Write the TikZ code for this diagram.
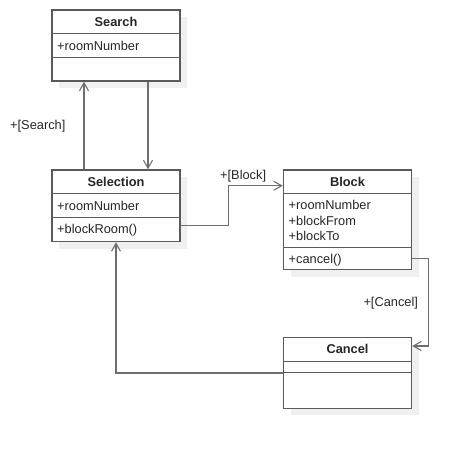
\documentclass[tikz,border=0pt]{standalone}
\usepackage{fontspec}
\setmainfont{Liberation Sans}
\usetikzlibrary{arrows.meta,positioning,shadows}

\definecolor{boxgray}{HTML}{5A5A5A}
\definecolor{linegray}{HTML}{6E6E6E}
\definecolor{shadowgray}{HTML}{F0F0F0}

\begin{document}
\begin{tikzpicture}[x=1pt,y=-1pt,>={Straight Barb[length=8pt,width=9pt,line width=1.1pt]},
  every node/.style={font=\fontsize{12.8}{15}\selectfont,text=black!85},
  classbox/.style={draw=boxgray,line width=1.4pt,fill=white,minimum width=128pt,inner sep=0pt,
    drop shadow={shadow xshift=7pt,shadow yshift=-7pt,fill=shadowgray,opacity=1}},
  classname/.style={font=\fontsize{12.8}{15}\selectfont\bfseries,minimum height=24pt,inner sep=0pt},
  member/.style={anchor=base west,inner sep=0pt},
  divider/.style={draw=boxgray,line width=1.4pt},
  link/.style={draw=linegray,line width=1.2pt,->},
  guard/.style={anchor=base west,inner sep=0pt}]
\useasboundingbox (0,0) rectangle (469,450);

% classes
\node[classbox,minimum height=71pt] (search) at (116,45.5) {};
\node[classname,below=0pt of search.north] (searchname) {Search};
\draw[divider] (search.west |- searchname.south) -- (search.east |- searchname.south);
\node[member] (searchroom) at (57,50) {+roomNumber};
\draw[divider] (52,57.5) -- (180,57.5);

\node[classbox,minimum height=71.5pt] (selection) at (116,205.75) {};
\node[classname,below=0pt of selection.north] (selectionname) {Selection};
\draw[divider] (selection.west |- selectionname.south) -- (selection.east |- selectionname.south);
\node[member] (selectionroom) at (57,210.5) {+roomNumber};
\draw[divider] (52,217.5) -- (180,217.5);
\node[member] (selectionblock) at (57,233) {+blockRoom()};

\node[classbox,minimum height=99.5pt] (block) at (347.5,219.75) {};
\node[classname,below=0pt of block.north] (blockname) {Block};
\draw[divider] (block.west |- blockname.south) -- (block.east |- blockname.south);
\node[member] (blockroom) at (288.5,209.5) {+roomNumber};
\node[member] (blockfrom) at (288.5,225) {+blockFrom};
\node[member] (blockto) at (288.5,240.5) {+blockTo};
\draw[divider] (283.5,247.5) -- (411.5,247.5);
\node[member] (blockcancel) at (288.5,263) {+cancel()};

\node[classbox,minimum height=70.6pt] (cancel) at (347.5,373) {};
\node[classname,below=0pt of cancel.north] (cancelname) {Cancel};
\draw[divider] (cancel.west |- cancelname.south) -- (cancel.east |- cancelname.south);
\draw[divider] (283.5,372.7) -- (411.5,372.7);

% transitions
\draw[link] ([xshift=32pt]search.south) -- ([xshift=32pt]selection.north);
\draw[link] ([xshift=-32pt]selection.north) -- ([xshift=-32pt]search.south);
\node[guard] (searchguard) at (10,129) {+[Search]};

\draw[link] ([yshift=-20pt]selection.east) -- ++(47.5,0) |- ([yshift=34pt]block.west);
\node[guard] (blockguard) at (220,179) {+[Block]};

\draw[link] ([yshift=-38.5pt]block.east) -- ++(16,0) |- ([yshift=27pt]cancel.east);
\node[guard] (cancelguard) at (363.3,306) {+[Cancel]};

\draw[link] (cancel.west) -| (selection.south);
\end{tikzpicture}
\end{document}
